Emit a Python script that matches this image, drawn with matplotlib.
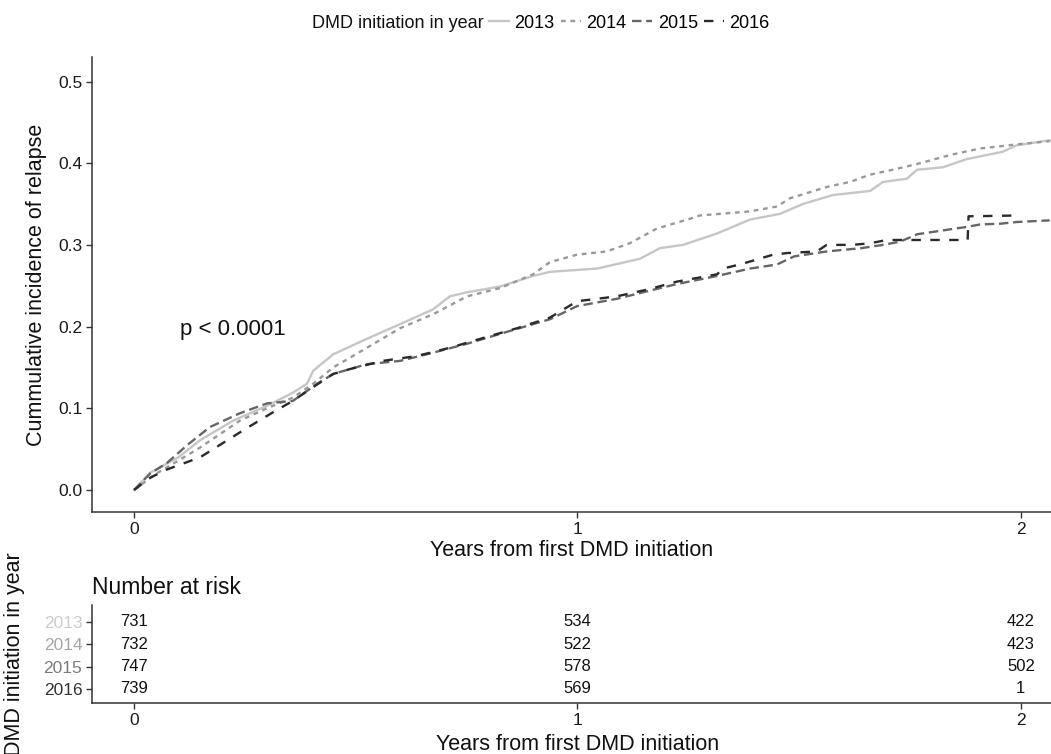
import matplotlib
matplotlib.use("Agg")
import matplotlib.pyplot as plt
from matplotlib.lines import Line2D

plt.rcParams['font.family'] = ['Liberation Sans', 'DejaVu Sans']

# Cumulative incidence curves (time in years, cumulative incidence)
years = ["2013", "2014", "2015", "2016"]

t_2013 = [0, 0.036, 0.10, 0.149, 0.224, 0.300, 0.358, 0.390, 0.404, 0.449, 0.525, 0.600,
          0.674, 0.712, 0.751, 0.825, 0.900, 0.938, 1.044, 1.141, 1.186, 1.238, 1.315,
          1.389, 1.457, 1.508, 1.576, 1.660, 1.689, 1.743, 1.766, 1.824, 1.878, 1.959,
          1.991, 2.065]
v_2013 = [0, 0.021, 0.040, 0.061, 0.085, 0.103, 0.119, 0.130, 0.146, 0.166, 0.185, 0.203,
          0.221, 0.237, 0.242, 0.249, 0.262, 0.267, 0.271, 0.283, 0.296, 0.300, 0.314,
          0.331, 0.338, 0.350, 0.361, 0.366, 0.377, 0.381, 0.392, 0.395, 0.405, 0.414,
          0.422, 0.428]

t_2014 = [0, 0.05, 0.10, 0.149, 0.239, 0.300, 0.358, 0.404, 0.449, 0.525, 0.600, 0.674,
          0.751, 0.825, 0.900, 0.938, 0.999, 1.066, 1.118, 1.179, 1.254, 1.276, 1.389,
          1.450, 1.479, 1.563, 1.614, 1.660, 1.711, 1.766, 1.840, 1.908, 1.991, 2.065]
v_2014 = [0, 0.020, 0.036, 0.052, 0.085, 0.100, 0.113, 0.130, 0.150, 0.174, 0.198, 0.215,
          0.237, 0.247, 0.264, 0.279, 0.288, 0.292, 0.302, 0.320, 0.332, 0.336, 0.341,
          0.347, 0.357, 0.371, 0.377, 0.386, 0.392, 0.399, 0.410, 0.418, 0.423, 0.427]

t_2015 = [0, 0.036, 0.074, 0.120, 0.171, 0.239, 0.300, 0.358, 0.413, 0.449, 0.525, 0.600,
          0.674, 0.751, 0.825, 0.900, 0.938, 0.999, 1.089, 1.163, 1.224, 1.315, 1.389,
          1.450, 1.489, 1.563, 1.640, 1.689, 1.728, 1.766, 1.840, 1.878, 1.908, 1.955,
          1.991, 2.065]
v_2015 = [0, 0.020, 0.033, 0.055, 0.077, 0.094, 0.106, 0.109, 0.130, 0.142, 0.154, 0.158,
          0.168, 0.179, 0.191, 0.203, 0.209, 0.225, 0.234, 0.244, 0.252, 0.262, 0.271,
          0.276, 0.286, 0.292, 0.296, 0.300, 0.304, 0.313, 0.319, 0.322, 0.325, 0.326,
          0.328, 0.330]

t_2016 = [0, 0.036, 0.074, 0.149, 0.246, 0.313, 0.358, 0.404, 0.449, 0.487, 0.561, 0.638,
          0.712, 0.787, 0.864, 0.938, 0.999, 1.089, 1.163, 1.224, 1.315, 1.328, 1.366,
          1.404, 1.441, 1.473, 1.540, 1.562, 1.620, 1.660, 1.698, 1.880, 1.882, 1.995]
v_2016 = [0, 0.015, 0.025, 0.040, 0.073, 0.095, 0.109, 0.126, 0.142, 0.148, 0.158, 0.164,
          0.174, 0.186, 0.198, 0.211, 0.231, 0.237, 0.246, 0.255, 0.264, 0.271, 0.276,
          0.282, 0.288, 0.290, 0.292, 0.300, 0.300, 0.302, 0.306, 0.306, 0.335, 0.336]

# Number at risk at 0, 1, 2 years
risk_times = [0, 1, 2]
risk_2013 = [731, 534, 422]
risk_2014 = [732, 522, 423]
risk_2015 = [747, 578, 502]
risk_2016 = [739, 569, 1]

p_text = "p < 0.0001"

series = [(t_2013, v_2013), (t_2014, v_2014), (t_2015, v_2015), (t_2016, v_2016)]
risks = [risk_2013, risk_2014, risk_2015, risk_2016]
colors = ["#c6c6c6", "#999999", "#666666", "#2a2a2a"]
label_colors = ["#cccccc", "#a6a6a6", "#7a7a7a", "#333333"]
lw = 1.7
styles = ["solid", (0, (2, 2)), (0, (4, 2)), (0, (4, 4))]

W, H = 1051, 754
fig = plt.figure(figsize=(W / 100, H / 100), dpi=100)


def box(left, top, right, bottom):
    return [left / W, 1 - bottom / H, (right - left) / W, (bottom - top) / H]


axis_col = "#333333"
xlim = (-0.095, 2.068)

# ---- main panel ----
ax = fig.add_axes(box(92, 57, 1051, 512))
for (t, v), c, ls in zip(series, colors, styles):
    ax.plot(t, v, color=c, lw=lw, linestyle=ls)
ax.set_xlim(*xlim)
ax.set_ylim(-0.027, 0.53)
ax.set_xticks([0, 1, 2])
ax.set_yticks([0.0, 0.1, 0.2, 0.3, 0.4, 0.5])
ax.set_yticklabels(["0.0", "0.1", "0.2", "0.3", "0.4", "0.5"])
for s in ["top", "right"]:
    ax.spines[s].set_visible(False)
for s in ["left", "bottom"]:
    ax.spines[s].set_color(axis_col)
    ax.spines[s].set_linewidth(1.1)
ax.tick_params(axis="both", colors=axis_col, labelcolor="#1a1a1a", labelsize=12.5,
               length=4, width=1.0, pad=3)
ax.set_xlabel("Years from first DMD initiation", fontsize=15.5, color="#111111", labelpad=2)
ax.set_ylabel("Cummulative incidence of relapse", fontsize=15.5, color="#111111", labelpad=8)
ax.text(0.104, 0.197, p_text, fontsize=16, ha="left", va="center", color="#111111")

# ---- legend ----
fig.text(312 / W, 1 - 23 / H, "DMD initiation in year", fontsize=13, ha="left",
         va="center", color="#111111")
handles = [Line2D([], [], color=c, lw=lw, linestyle=ls) for c, ls in zip(colors, styles)]
fig.legend(handles, years, loc="center left", bbox_to_anchor=(489 / W, 1 - 23 / H),
           ncol=4, frameon=False, fontsize=13, handlelength=1.1, handletextpad=0.3,
           columnspacing=0.35, borderpad=0, borderaxespad=0)

# ---- risk table ----
tab = fig.add_axes(box(92, 605, 1051, 703))
rows = [4, 3, 2, 1]
for r, vals in zip(rows, risks):
    for t, n in zip(risk_times, vals):
        tab.text(t, r, str(n), ha="center", va="center", fontsize=12, color="#111111")
tab.set_xlim(*xlim)
tab.set_ylim(0.37, 4.76)
tab.set_xticks([0, 1, 2])
tab.set_yticks(rows)
tab.set_yticklabels(years)
for s in ["top", "right"]:
    tab.spines[s].set_visible(False)
for s in ["left", "bottom"]:
    tab.spines[s].set_color(axis_col)
    tab.spines[s].set_linewidth(1.1)
tab.tick_params(axis="both", colors=axis_col, labelsize=12.5, length=4, width=1.0, pad=3)
tab.tick_params(axis="x", labelcolor="#1a1a1a")
for lab, c in zip(tab.get_yticklabels(), label_colors):
    lab.set_color(c)
fig.text(92 / W, 1 - 588 / H, "Number at risk", fontsize=16.5, ha="left", va="center",
         color="#111111")
fig.text(578 / W, 1 - 745 / H, "Years from first DMD initiation", fontsize=15.5,
         ha="center", va="center", color="#111111")
fig.text(15 / W, 1 - 654 / H, "DMD initiation in year", fontsize=15.5, rotation=90,
         ha="center", va="center", color="#111111")

fig.savefig("out.png", dpi=100)
